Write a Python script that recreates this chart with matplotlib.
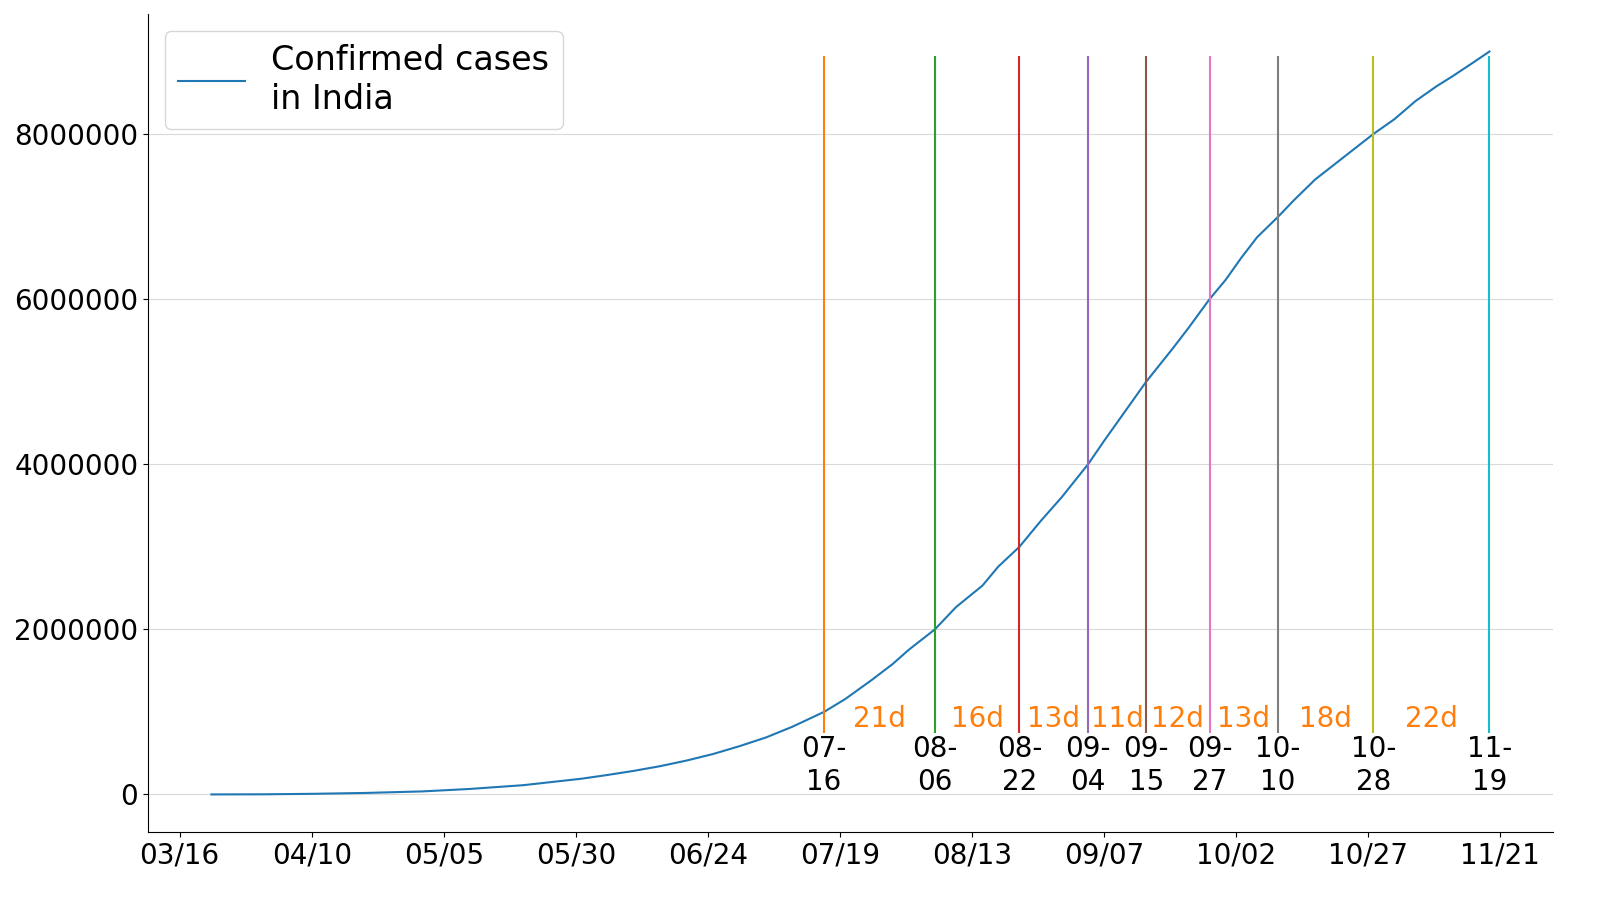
import matplotlib
matplotlib.use("Agg")
import matplotlib.pyplot as plt
import matplotlib.dates as mdates
import pandas as pd

dates = ["2020-03-22","2020-04-01","2020-04-10","2020-04-20","2020-05-01","2020-05-10","2020-05-20",
         "2020-05-31","2020-06-05","2020-06-10","2020-06-15","2020-06-20","2020-06-25","2020-06-30",
         "2020-07-05","2020-07-10","2020-07-16","2020-07-20","2020-07-25","2020-07-29",
         "2020-08-01","2020-08-06","2020-08-10","2020-08-15","2020-08-18","2020-08-22","2020-08-26",
         "2020-08-30","2020-09-04","2020-09-07","2020-09-10","2020-09-15","2020-09-20","2020-09-23",
         "2020-09-27","2020-09-30","2020-10-03","2020-10-06","2020-10-10","2020-10-13","2020-10-17",
         "2020-10-22","2020-10-28","2020-11-01","2020-11-05","2020-11-09","2020-11-12","2020-11-16",
         "2020-11-19"]
cases = [400,1900,7600,18000,37000,67000,112000,
         190000,236000,286000,343000,411000,490000,585000,
         690000,820000,1000000,1155000,1385000,1580000,
         1750000,2000000,2270000,2530000,2760000,3000000,3310000,
         3600000,4000000,4280000,4550000,5000000,5400000,5650000,
         6000000,6230000,6500000,6750000,7000000,7200000,7450000,
         7700000,8000000,8180000,8400000,8580000,8700000,8870000,
         9000000]
milestones = ["2020-07-16","2020-08-06","2020-08-22","2020-09-04","2020-09-15","2020-09-27",
              "2020-10-10","2020-10-28","2020-11-19"]
colors = ["tab:orange","tab:green","tab:red","tab:purple","tab:brown","tab:pink","tab:gray","tab:olive","tab:cyan"]
tick_dates = ["2020-03-16","2020-04-10","2020-05-05","2020-05-30","2020-06-24","2020-07-19",
              "2020-08-13","2020-09-07","2020-10-02","2020-10-27","2020-11-21"]

d = pd.to_datetime(dates)
m = pd.to_datetime(milestones)
fig = plt.figure(figsize=(16, 9), dpi=100)
ax = fig.add_axes([0.0925, 0.076, 0.878, 0.908])
ax.plot(d, cases, color="tab:blue", lw=1.5, label="Confirmed cases\nin India")
for dt, c in zip(m, colors):
    ax.vlines(dt, 750000, 8950000, color=c, lw=1.5)
    ax.text(dt, 350000, dt.strftime("%m-\n%d"), ha="center", va="center", fontsize=20)
for a, b in zip(m[:-1], m[1:]):
    mid = a + (b - a) / 2
    ax.text(mid, 920000, f"{(b - a).days}d", ha="center", va="center", fontsize=20, color="tab:orange")
ax.set_xlim(pd.Timestamp("2020-03-10"), pd.Timestamp("2020-12-01"))
ax.set_ylim(-450000, 9450000)
ax.set_xticks(pd.to_datetime(tick_dates))
ax.xaxis.set_major_formatter(mdates.DateFormatter("%m/%d"))
ax.set_yticks([0, 2000000, 4000000, 6000000, 8000000])
ax.set_yticklabels(["0", "2000000", "4000000", "6000000", "8000000"])
ax.tick_params(labelsize=20)
ax.grid(axis="y", color="#d9d9d9")
ax.set_axisbelow(True)
for s in ["top", "right"]:
    ax.spines[s].set_visible(False)
ax.legend(loc="upper left", fontsize=24)
fig.savefig("out.png")
